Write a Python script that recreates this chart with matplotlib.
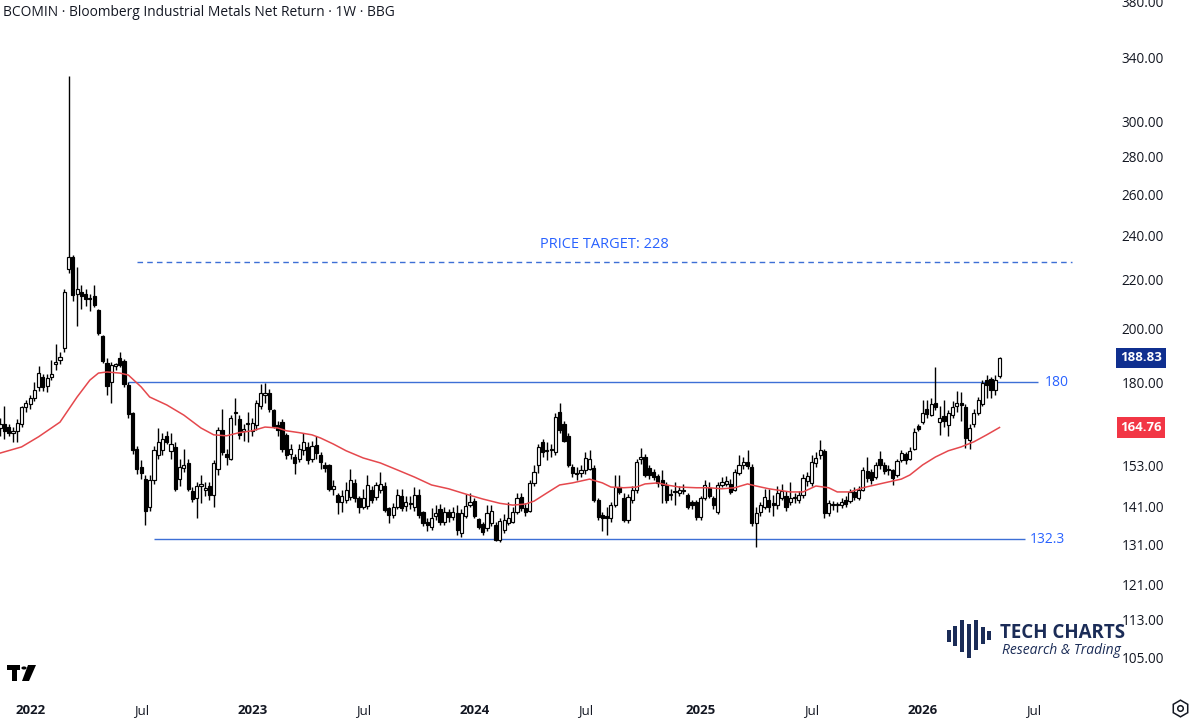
import numpy as np
import pandas as pd
import matplotlib
matplotlib.use("Agg")
import matplotlib.pyplot as plt
from matplotlib.patches import Rectangle, Polygon, Circle
from matplotlib.lines import Line2D
from matplotlib.ticker import NullLocator, NullFormatter
import matplotlib.transforms as mtransforms

# ---------------- data ----------------
start_date = "2021-11-15"   # first weekly bar
opens = [164.5,166,165,163,163.6,166,171.5,172.5,174.5,178.5,182,178.7,182,186.5,188,192.5,225,230,214,215,
         214,212,213,207.5,197,187,180,186,188.7,187.6,179,169.5,158,152.5,149,141,148.6,156,157.5,162,
         157.4,158.6,148.9,152.2,153.6,145.5,143.5,147,145.8,147,144.3,152,164,156.5,155,169.5,167.5,163.7,165.8,163.6,
         165.6,172,175.6,176.4,170.5,165.6,166.4,162.4,156.5,155.5,155,157.7,158.6,154.9,159.2,156,153,153,146,144.3,
         142.3,142.9,143.8,147.8,143.5,141.1,141.3,145.8,143.8,145.8,147,140.6,138.8,141,144,141.3,142,141,144.3,139.6,
         136.9,135.6,138.6,140.3,137,139.6,138.2,139.3,134,138.5,141.5,142.6,137.7,136.3,135.2,136.6,136.1,132.1,134.8,136.6,
         137,139.6,143.8,140.8,140,147.8,153,160,157.4,157.8,157,169.8,166,162,152.5,150.5,150.6,151.6,152,152.2,
         142.9,138.8,138.5,138,141.5,146.6,143.5,137.4,142.9,145.8,155,155.5,152.2,151,149.8,148.6,147.2,144.3,145.5,145,
         145.5,144.3,142.3,142.3,138.2,143.5,146.4,143.5,139.5,147.2,147.5,147.5,145.8,150.6,153.1,154,152.5,136.6,139.6,141,
         142.9,142.2,141.5,143.5,144,142.3,143.5,142.9,144.3,148.3,147.8,153.6,156,157.4,139.3,141.5,141.8,141.5,143,142.6,
         145.2,143.5,145.8,151.3,151,149.5,155,153.1,152,151.5,150.1,154.5,156.4,155,158,165.2,166.6,171,169,172.8,
         166.6,168.5,165.6,169,171.8,173,171.5,160.8,166,169.5,172.5,181,181.3,177.3,182.3]
highs = [168,172,166,165,167.5,172,174,175.5,180,186,183,183,188,194,191,216,328,231,225.6,218,
         216,214,218,208,197.5,188.7,187.5,187,191,188.5,180,170,159,154.6,150,150,159,164.7,163,163.5,
         163,160,155,158,155,146.5,148,150,148,148,154.5,165,170.8,158,169,174.7,169,166,169.8,168,
         174,179.5,179.7,177.5,171,167,167.5,163,159.5,156.5,159.5,163,160,160.5,162,157,154,153.5,148.5,145,
         145.8,148,152,149,144,146,150,147,148,151,148,141,142,146,146,144,144,146.5,146,140,
         138,140.6,141.5,141.8,141,140.5,141,141.5,140.5,144.5,145,143.5,138,137,141.5,141.5,137,138,139,142.5,
         141,145,145,142,148.5,153,159.5,161,160,159.5,169.5,172.9,167,163,153.5,152.5,153,157,157.5,153,
         143.5,139.5,141,142.5,150,150,145,144.5,147,155,158.3,156.5,153,152,150.5,151.6,148,146,148,147,
         147.5,145,143,143,144,148.5,148,144,148,149.5,149.8,149,152,156.1,155.5,157.7,153.5,141,142.5,146,
         146,144.3,147,147.5,145.5,148,145,145.5,150.5,151,156,157,160.8,158,143,142.6,142.5,143.5,144,146,
         146.6,147,152.5,155.5,152,154,157.4,154,153,152,155,157.7,157,158.6,164.5,166,174,174,174.5,185.4,
         172,174,170.5,173.5,177,176.5,172.5,166,171,175,181,182.5,182,182.5,189.3]
lows = [162,161,162,160,160,165,170,171,173.5,177,177,176.5,181,184.5,186.5,191,223,211,201,208,
        209,207,208.5,197.5,187,175.6,173,184.5,185.5,178.5,168,156.5,150.5,149,136,140,147.5,155,156,159.5,
        155,145.5,147,151,145.5,142.5,138,142,144,143,141,150,156,153,154.5,165.6,161,160.5,160.2,162,
        164,171,173,170,164.5,162,157,155,155,150.5,154,156,153.5,154,155,152,151,145.5,144.3,139,
        139.7,142,143,142.5,139.2,140.5,140.5,142,143,145,139.5,136.5,138,140.5,140,140,140.5,140,138,135.8,
        134.5,134.8,137.5,136,136,137,137.5,133.5,132.8,138,141,138,135,133.5,134.5,135.8,131.8,131.5,134,136,
        136.5,139,140,138.5,139.5,147,150.6,155.5,154.5,155.5,156,163,160,152.5,149.5,148.5,149.5,150.5,151.5,142.5,
        137.5,134.5,133.5,137,141,144.5,137,136.5,142,145,153.5,149.5,149,148.5,146.5,142,142,143,141.5,144,
        144.5,140.5,140.5,137.5,137.5,143,143.5,140.5,139,146.5,146.8,144.5,145.5,150,152,152,135.8,130.4,138.5,140.5,
        139.5,138.5,140.5,142.8,140,141.5,142,142,143.5,147,147,152.5,155,138,138.5,140.1,139.5,140.8,141,142,
        143,143,145.5,148,147.5,148.8,152,150.5,150,147.2,149.5,154,153.5,154.5,157.5,163.5,166,168,168.5,170.5,
        162.4,165,162,168,170,167,158.3,158,165,169,172,174.5,174.5,175.5,181.5]
closes = [166,163.5,163,163.5,166.2,171.5,173,174.5,177.3,183.5,178.5,181.5,183,187.3,189,215,230,213.6,216,213,
          212,212.5,209.5,198.4,187.7,178.7,186.2,186.5,186.4,179.3,169.2,157.7,152,150.6,140,148.7,157.7,160.2,161,160,
          159.5,146,152.4,153.1,146.1,143.2,146.8,147.5,146.4,144.3,153.6,164,157,155.5,167.8,169.8,162.4,164.3,166.2,166.2,
          173,176.4,176.4,170.8,165.3,163.8,158,156.1,158,153.6,158,160,154.6,158.9,156.7,153.9,152.2,146.1,147,142.3,
          144,145.8,148.6,143.5,141.1,143.5,147.2,142.9,147.2,147.5,140.1,138.8,141.1,144.3,140.8,142.3,141.8,144.3,138.8,136.6,
          136.1,137.9,139.4,137,139.6,138.2,139.6,134.8,139.3,141.3,142.3,138.5,135.6,134.3,139.3,140,132.1,137.2,137.4,138.1,
          139.6,143.5,140.8,139.6,147.8,151,158.6,157,157.7,157.5,168.2,164,160.5,153.1,150.6,150.8,151.6,155.2,155,142.9,
          138.2,138,138,141.5,146.6,145.2,137.4,143.8,145.8,154,155.5,150.1,150.1,149.5,147.8,147.2,143,144.6,145.2,145.8,
          145.8,141.1,141.5,138.2,143.5,147.2,144,141.5,147.2,148,148.3,145.2,151,153.1,154,152.9,136.5,139.3,141.5,143.8,
          141,141.6,144.8,145.5,141.1,143.5,143.8,144.3,149.2,149.8,154,155.2,157.7,139.3,142,141.8,141.5,142.5,141.8,145.2,
          143.8,145.8,151.6,149.1,148.6,153,153.1,151.3,151.5,149.3,154.2,156.7,154.6,157.4,163.4,164.3,169.5,169.2,172.5,171.5,
          167.8,166.8,169.5,171.5,173,172.3,161.5,164.7,169.5,173.9,179.7,179,177.3,181,188.83]

# moving average (bar index, value)
ma_index = [0,5,9,14,18,21,23,25,28,30,33,35,39,43,47,50,53,56,59,62,65,67,70,73,75,78,81,85,89,93,97,101,105,109,
            113,117,120,123,125,128,131,134,138,141,143,146,149,151,154,156,159,163,166,169,172,175,177,180,185,188,
            191,194,196,199,202,207,211,213,216,219,222,225,228,231,234]
ma_values = [156.7,158.6,161.8,166.5,174.9,180.8,183.3,183.7,183.3,182.6,178.4,174.9,172.2,168.8,164.6,162.4,162.1,
             163.1,163.7,164.9,164.6,163.7,163.1,162.4,161.4,159.5,157.4,155.2,153.7,151.6,149.5,147.2,146.1,144.6,
             143.2,142.0,141.5,141.8,142.6,144.9,147.2,147.8,148.9,147.8,146.6,146.4,146.6,147.5,147.8,147.2,146.6,
             146.4,146.4,146.1,146.4,147.5,146.9,146.1,145.2,145.2,146.9,146.4,145.2,145.2,146.4,147.8,148.9,150.1,
             153.1,155.5,157.4,158.6,160.2,162.4,164.76]

y_ticks = [105, 113, 121, 131, 141, 153, 180, 200, 220, 240, 260, 280, 300, 340, 380]
x_tick_dates = ["2022-01-03", "2022-07-04", "2023-01-02", "2023-07-03", "2024-01-01",
                "2024-07-01", "2025-01-06", "2025-07-07", "2026-01-05", "2026-07-06"]
x_tick_labels = ["2022", "Jul", "2023", "Jul", "2024", "Jul", "2025", "Jul", "2026", "Jul"]

resistance = 180.0
support = 132.3
target = 228.0
resistance_span = ("2022-06-13", "2026-07-13")
support_span = ("2022-07-25", "2026-06-22")
target_span = ("2022-06-27", "2026-09-07")
last_close = 188.83
last_ma = 164.76

# ---------------- helpers ----------------
W, H = 1200, 720
t0 = pd.Timestamp(start_date)


def idx(d):
    return (pd.Timestamp(d) - t0).days / 7.0


def fx(x):
    return x / W


def fy(y):
    return 1 - y / H


plt.rcParams['font.family'] = ['Open Sans', 'DejaVu Sans']
TXT = '#131722'
BLUE = '#2962ff'
LINE_BLUE = '#3d6fd6'

fig = plt.figure(figsize=(12, 7.2), dpi=100)
ax = fig.add_axes([0, 27 / H, 1105 / W, 693 / H])
ax.set_yscale('log')
ax.set_ylim(97.9, 380.9)
ax.set_xlim(-0.05, 258.7)
for s in ax.spines.values():
    s.set_visible(False)

n = len(closes)
xs = np.arange(n)
o = np.array(opens); c = np.array(closes); hi = np.array(highs); lo = np.array(lows)

# wicks
ax.vlines(xs, lo, hi, color='black', linewidth=1.0, zorder=2)
# bodies
up = c >= o
bottoms = np.minimum(o, c)
heights = np.maximum(np.abs(c - o), 0.15)
ax.bar(xs[up], heights[up], bottom=bottoms[up], width=0.74, facecolor='white',
       edgecolor='black', linewidth=0.85, zorder=3)
ax.bar(xs[~up], heights[~up], bottom=bottoms[~up], width=0.74, facecolor='black',
       edgecolor='black', linewidth=0.85, zorder=3)

# moving average
ax.plot(ma_index, ma_values, color='#e5484d', linewidth=1.1, zorder=4)

# levels
ax.hlines(resistance, idx(resistance_span[0]), idx(resistance_span[1]), color=LINE_BLUE, linewidth=1.0, zorder=1)
ax.hlines(support, idx(support_span[0]), idx(support_span[1]), color=LINE_BLUE, linewidth=1.0, zorder=1)
ax.hlines(target, idx(target_span[0]), idx(target_span[1]), color=LINE_BLUE, linewidth=1.0,
          linestyles=(0, (4, 3)), zorder=1)
ax.text(idx(resistance_span[1]) + 1.5, resistance, "180", color=BLUE, fontsize=10, va='center', ha='left')
ax.text(idx(support_span[1]) + 1.0, support, "132.3", color=BLUE, fontsize=10, va='center', ha='left')
ax.text((idx(target_span[0]) + idx(target_span[1])) / 2, target * 1.034, "PRICE TARGET: 228",
        color=BLUE, fontsize=10.5, va='center', ha='center')

# axes ticks
ax.yaxis.tick_right()
ax.set_yticks(y_ticks)
ax.set_yticklabels([f"{v:.2f}" for v in y_ticks])
ax.yaxis.set_minor_locator(NullLocator())
ax.yaxis.set_minor_formatter(NullFormatter())
ax.tick_params(axis='y', length=0, pad=12, labelsize=9.8, labelcolor=TXT)

ax.set_xticks([idx(d) for d in x_tick_dates])
ax.set_xticklabels(x_tick_labels)
ax.tick_params(axis='x', length=0, pad=8, labelsize=9.5, labelcolor=TXT)
for lab in ax.get_xticklabels():
    if lab.get_text() != "Jul":
        lab.set_fontweight('bold')

# price tags on the scale
blend = mtransforms.blended_transform_factory(fig.transFigure, ax.transData)
ax.text(fx(1141), last_close, f"{last_close:.2f}", transform=blend, ha='center', va='center',
        fontsize=9.5, color='white', fontweight='bold', clip_on=False,
        bbox=dict(boxstyle='square,pad=0.28', facecolor='#0f2f8f', edgecolor='none'))
ax.text(fx(1141), last_ma, f"{last_ma:.2f}", transform=blend, ha='center', va='center',
        fontsize=9.5, color='white', fontweight='bold', clip_on=False,
        bbox=dict(boxstyle='square,pad=0.28', facecolor='#f23645', edgecolor='none'))

# title
fig.text(fx(3), fy(12), "BCOMIN · Bloomberg Industrial Metals Net Return · 1W · BBG",
         fontsize=9.9, color=TXT, va='center', ha='left')

# Tech Charts logo
NAVY = '#1b2c57'
bars = [(947, 630, 642), (953, 626, 646), (960, 620, 652), (967, 624, 658), (974, 620, 650),
        (981, 627, 644), (987, 631, 640)]
for bx, y0, y1 in bars:
    fig.patches.append(Rectangle((fx(bx), fy(y1)), 4 / W, (y1 - y0) / H, transform=fig.transFigure,
                                 facecolor=NAVY, edgecolor='none'))
fig.text(fx(1000), fy(633), "TECH CHARTS", fontsize=13.5, fontweight='bold', color=NAVY,
         va='center', ha='left')
fig.text(fx(1002), fy(651), "Research & Trading", fontsize=10, fontstyle='italic', color=NAVY,
         va='center', ha='left')

# TradingView-like mark
fig.patches.append(Rectangle((fx(7), fy(670)), 13 / W, 5 / H, transform=fig.transFigure, facecolor='black'))
fig.patches.append(Rectangle((fx(12), fy(681)), 5 / W, 12 / H, transform=fig.transFigure, facecolor='black'))
fig.patches.append(Circle((fx(24), fy(668)), 2.6 / W, transform=fig.transFigure, facecolor='black'))
fig.patches.append(Polygon([(fx(28), fy(665)), (fx(36), fy(665)), (fx(29), fy(681)), (fx(22), fy(681))],
                           closed=True, transform=fig.transFigure, facecolor='black'))

# settings icon
fig.add_artist(Line2D([fx(1180)], [fy(708)], marker='h', markersize=12, markerfacecolor='none',
                      markeredgecolor=TXT, markeredgewidth=1.1, transform=fig.transFigure))
fig.add_artist(Line2D([fx(1180)], [fy(708)], marker='o', markersize=4, markerfacecolor='none',
                      markeredgecolor=TXT, markeredgewidth=1.1, transform=fig.transFigure))

fig.savefig("out.png", dpi=100, facecolor='white')
